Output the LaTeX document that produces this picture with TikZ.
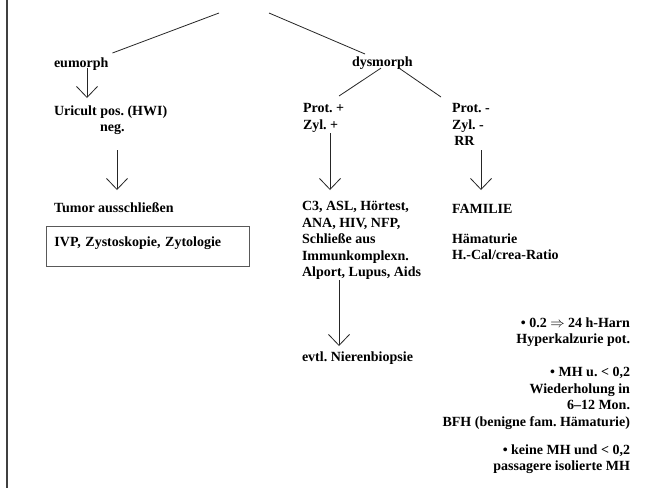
\documentclass[tikz,border=0pt]{standalone}
\usepackage{fontspec}
\setmainfont{Liberation Serif}
\usetikzlibrary{arrows.meta,calc}
\frenchspacing
\begin{document}
\begin{tikzpicture}[x=1pt,y=-1pt,
  txt/.style={inner sep=0pt, outer sep=0pt, align=left, anchor=north west,
    font=\fontsize{14}{16.4}\selectfont\bfseries\frenchspacing, execute at begin node=\strut},
  rtxt/.style={txt, align=right, anchor=north east},
  ln/.style={line width=0.8pt, draw=black!85},
  arr/.style={ln, -{Straight Barb[length=11pt,width=21pt,line width=0.8pt]}},
  boxed/.style={draw=black!65, line width=0.9pt, inner xsep=8pt, inner ysep=4pt,
    text height=16pt, text depth=16pt, text width=187pt, align=left, anchor=west,
    font=\fontsize{14}{16.4}\selectfont\bfseries\frenchspacing}]
\useasboundingbox (0,0) rectangle (647,488);
\fill[white] (0,0) rectangle (647,488);
% left frame edge
\draw[line width=1.6pt, black!75] (7,0) -- (7,488);

\coordinate (rootL) at (219,13);
\coordinate (rootR) at (269,13);

\node[txt] (eum) at (54,55.6) {eumorph};
\node[txt] (uri) at (54,103.6) {Uricult pos. (HWI)};
\node[txt] (neg) at (100,119.6) {neg.};
\node[txt] (tum) at (54,200.6) {Tumor ausschließen};
\node[boxed] (box) at (46,246) {IVP, Zystoskopie, Zytologie};

\node[txt] (dys) at (352,54.6) {dysmorph};
\node[txt] (pp) at (303,103.6) {Prot. +\\Zyl. +};
\node[txt] (pm) at (452,103.6) {Prot. -\\Zyl. -\\\,RR};
\node[txt] (c3) at (302,201.6) {C3, ASL, Hörtest,\\ANA, HIV, NFP,\\Schließe aus\\Immunkomplexn.\\Alport, Lupus, Aids};
\node[txt] (fam) at (452,201.6) {FAMILIE};
\node[txt] (ham) at (452,233.6) {Hämaturie\\H.-Cal/crea-Ratio};
\node[txt] (nb) at (302,349.6) {evtl. Nierenbiopsie};

\node[rtxt] (rb1) at (630,317.6) {• 0.2 $\Rightarrow$ 24 h-Harn\\Hyperkalzurie pot.};
\node[rtxt] (rb2) at (630,367.6) {• MH u. < 0,2\\Wiederholung in\\6–12 Mon.\\BFH (benigne fam. Hämaturie)};
\node[rtxt] (rb3) at (630,444.6) {• keine MH und < 0,2\\passagere isolierte MH};

% top branches
\draw[ln] (rootL) -- ($(eum.north east)+(4,-2.6)$);
\draw[ln] (rootR) -- ($(dys.north west)+(13,-0.6)$);
\draw[ln] ($(dys.south west)+(29,-2.9)$) -- ($(pp.north west)+(36,-7.6)$);
\draw[ln] ($(dys.south west)+(47,-2.9)$) -- ($(pm.north west)+(-11,-6.6)$);

% arrows
\draw[arr] ($(eum.south west)+(33,-3.9)$) -- ($(uri.north west)+(33,-5.6)$);
\draw[arr] ($(neg.south west)+(17,14.1)$) -- ($(tum.north west)+(63,-10.6)$);
\draw[arr] ($(pp.north west)+(27,29.4)$) -- ($(c3.north west)+(28,-11.6)$);
\draw[arr] ($(pm.north west)+(29,46.4)$) -- ($(fam.north west)+(29,-11.6)$);
\draw[arr] ($(c3.north west)+(37,78.4)$) -- ($(nb.north west)+(37,-3.6)$);
\end{tikzpicture}
\end{document}
